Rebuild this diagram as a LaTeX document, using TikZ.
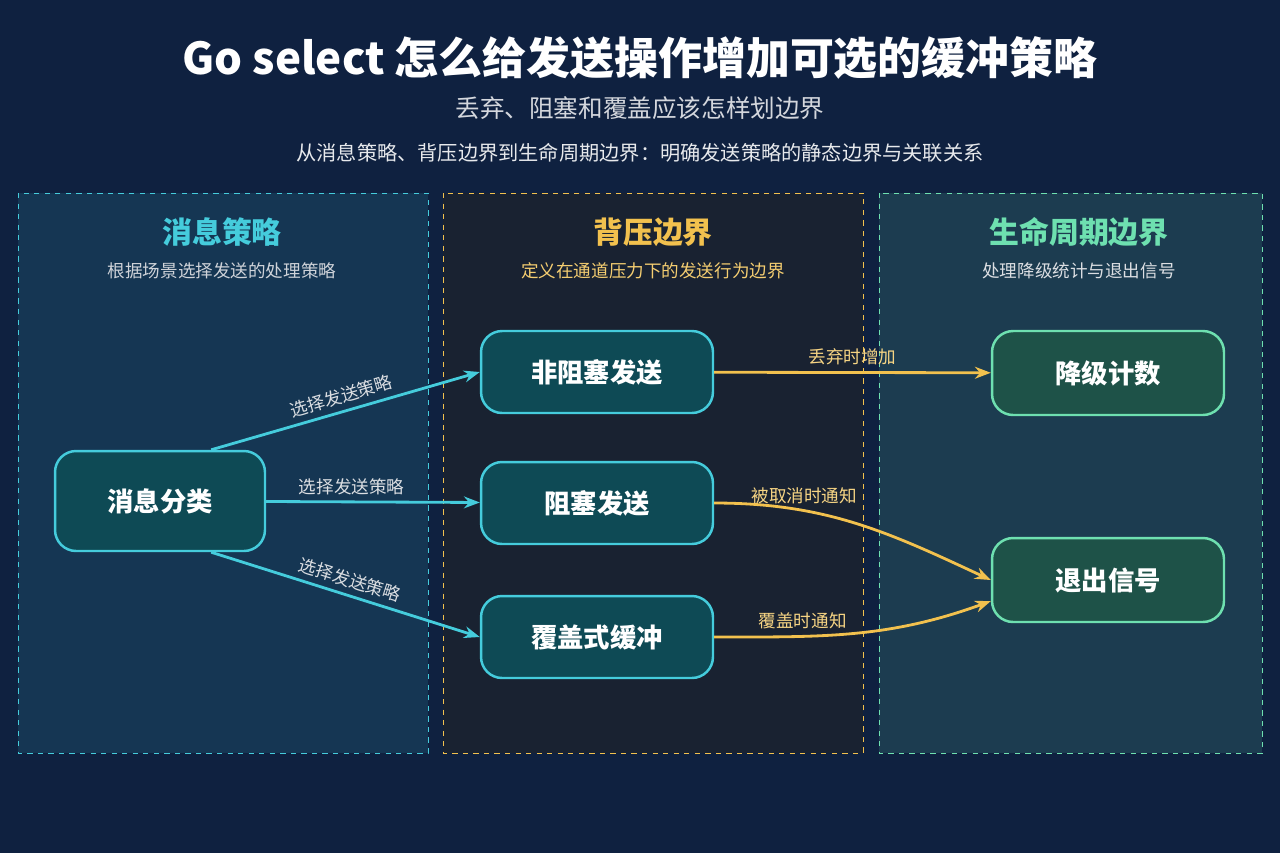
\documentclass[tikz,border=0pt]{standalone}
\usepackage{fontspec}
\setmainfont{Noto Sans CJK SC}
\usetikzlibrary{arrows.meta}
\definecolor{bg}{HTML}{0F2140}
\definecolor{cy}{HTML}{45CCDC}
\definecolor{yl}{HTML}{F2C14E}
\definecolor{gr}{HTML}{6EE0B0}
\definecolor{boxfill}{HTML}{0E4A55}
\definecolor{greenfill}{HTML}{1E5248}
\begin{document}
\begin{tikzpicture}[x=0.02cm,y=-0.02cm]
	\fill[bg] (0,0) rectangle (1280,853);
	\draw[cy,dashed,fill=cy!12!bg] (18,193) rectangle (428,753);
	\draw[yl,dashed,fill=yl!8!bg!75!black] (443,193) rectangle (863,753);
	\draw[gr,dashed,fill=gr!14!bg] (879,193) rectangle (1262,753);
	\node[white,font=\bfseries\fontsize{25}{28}\selectfont] (title) at (640,58) {Go select 怎么给发送操作增加可选的缓冲策略};
	\node[white!82!bg,font=\fontsize{14}{16}\selectfont] (sub) at (640,108) {丢弃、阻塞和覆盖应该怎样划边界};
	\node[white!90!bg,font=\fontsize{11.5}{13}\selectfont] (desc) at (640,153) {从消息策略、背压边界到生命周期边界：明确发送策略的静态边界与关联关系};
	\node[cy,font=\bfseries\fontsize{17}{20}\selectfont] (h1) at (222,232) {消息策略};
	\node[white!80!bg,font=\fontsize{10}{12}\selectfont] (s1) at (222,271) {根据场景选择发送的处理策略};
	\node[yl,font=\bfseries\fontsize{17}{20}\selectfont] (h2) at (653,232) {背压边界};
	\node[yl!80!white,font=\fontsize{10}{12}\selectfont] (s2) at (653,271) {定义在通道压力下的发送行为边界};
	\node[gr,font=\bfseries\fontsize{17}{20}\selectfont] (h3) at (1079,232) {生命周期边界};
	\node[white!85!bg,font=\fontsize{10}{12}\selectfont] (s3) at (1079,271) {处理降级统计与退出信号};
	\begin{scope}[every node/.style={draw,line width=1.4pt,rounded corners=12pt,text=white,font=\bfseries\fontsize{15}{18}\selectfont}]
		\node[draw=cy,fill=boxfill,minimum width=4.2cm,minimum height=2cm] (cls) at (160,501) {消息分类};
		\node[draw=cy,fill=boxfill,minimum width=4.64cm,minimum height=1.64cm] (nb) at (597,372) {非阻塞发送};
		\node[draw=cy,fill=boxfill,minimum width=4.64cm,minimum height=1.64cm] (bl) at (597,503) {阻塞发送};
		\node[draw=cy,fill=boxfill,minimum width=4.64cm,minimum height=1.64cm] (ov) at (597,637) {覆盖式缓冲};
		\node[draw=gr,fill=greenfill,minimum width=4.64cm,minimum height=1.68cm] (cnt) at (1108,373) {降级计数};
		\node[draw=gr,fill=greenfill,minimum width=4.64cm,minimum height=1.68cm] (sig) at (1108,580) {退出信号};
	\end{scope}
	\begin{scope}[every node/.style={font=\fontsize{10}{12}\selectfont}]
		\path [-{Stealth[length=9pt]},cy,line width=1.6pt](cls.north east) ++(-55,0) coordinate (c1) (c1) edge node[sloped,above,white!85!bg] {选择发送策略} (nb.west);
		\path [-{Stealth[length=9pt]},cy,line width=1.6pt](cls) edge node[pos=0.4,above,white!85!bg] {选择发送策略} (bl);
		\path [-{Stealth[length=9pt]},cy,line width=1.6pt](cls.south east) ++(-55,0) coordinate (c2) (c2) edge node[sloped,above,white!85!bg] {选择发送策略} (ov.west);
		\path [-{Stealth[length=9pt]},yl,line width=1.6pt](nb) edge node[above,yl!70!white] {丢弃时增加} (cnt);
		\path [-{Stealth[length=9pt]},yl,line width=1.6pt](bl.east) edge[out=0,in=155] node[pos=0.3,above,yl!70!white] {被取消时通知} (sig.west);
		\path [-{Stealth[length=9pt]},yl,line width=1.6pt](ov.east) edge[out=0,in=200] node[pos=0.3,above,yl!70!white] {覆盖时通知} ([yshift=-12]sig.west);
	\end{scope}
\end{tikzpicture}
\end{document}
